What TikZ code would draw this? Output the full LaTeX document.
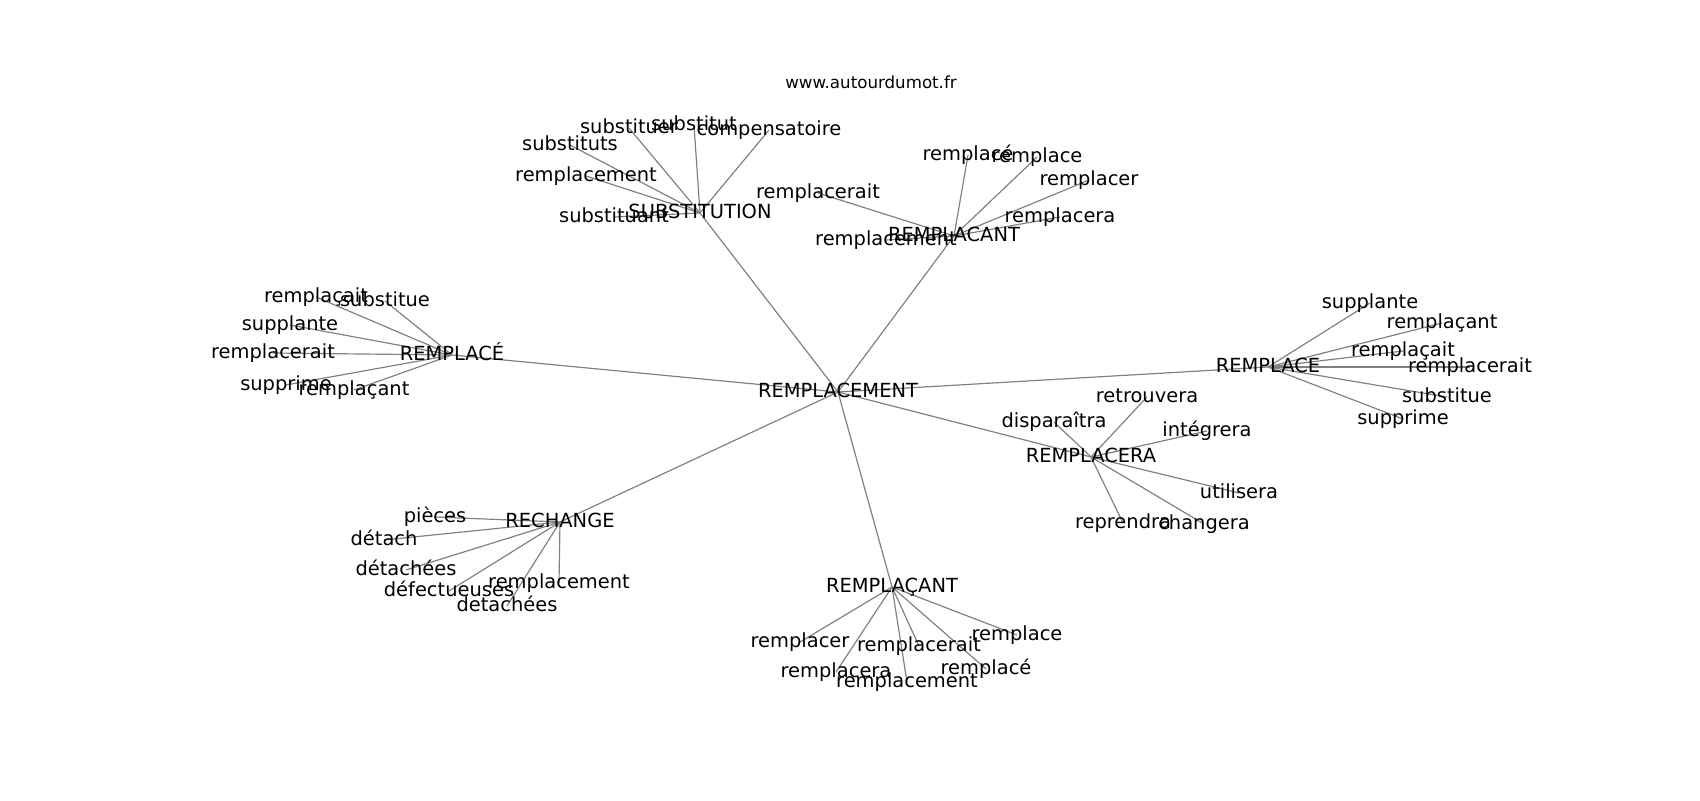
\documentclass[tikz,border=0pt]{standalone}
\usepackage{fontspec}
\setmainfont{DejaVu Sans}
\usetikzlibrary{backgrounds}
\begin{document}
\begin{tikzpicture}[x=0.72pt,y=-0.72pt,
  lbl/.style={inner sep=0pt,outer sep=0pt,anchor=center,text height=0.73em,text depth=0pt,font=\fontsize{14}{16}\selectfont,text=black},
  site/.style={inner sep=0pt,anchor=center,text height=0.73em,text depth=0pt,font=\fontsize{12}{14}\selectfont,text=black},
  edge/.style={draw=gray,line width=0.85pt}]
\useasboundingbox (0,0) rectangle (1700,800);
\node[site] (www) at (871,83) {www.autourdumot.fr};
% hub
\node[lbl] (C) at (838,392) {REMPLACEMENT};
% second level
\node[lbl] (SUB) at (700,213) {SUBSTITUTION};
\node[lbl] (RTOP) at (954,236) {REMPLACANT};
\node[lbl] (RE) at (452,355) {REMPLACÉ};
\node[lbl] (RC) at (1268,367) {REMPLACE};
\node[lbl] (RA) at (1091,457) {REMPLACERA};
\node[lbl] (RH) at (560,522) {RECHANGE};
\node[lbl] (RB) at (892,587) {REMPLAÇANT};
% SUBSTITUTION leaves
\node[lbl] (s1) at (629,128) {substituer};
\node[lbl] (s2) at (694,125) {substitut};
\node[lbl] (s3) at (769,130) {compensatoire};
\node[lbl] (s4) at (570,145) {substituts};
\node[lbl] (s5) at (586,176) {remplacement};
\node[lbl] (s6) at (614,217) {substituant};
% REMPLACANT (top) leaves
\node[lbl] (t1) at (968,155) {remplacé};
\node[lbl] (t2) at (1037,157) {remplace};
\node[lbl] (t3) at (1089,180) {remplacer};
\node[lbl] (t4) at (818,193) {remplacerait};
\node[lbl] (t5) at (1060,217) {remplacera};
\node[lbl] (t6) at (886,240) {remplacement};
% REMPLACÉ leaves
\node[lbl] (e1) at (316,297) {remplaçait};
\node[lbl] (e2) at (385,301) {substitue};
\node[lbl] (e3) at (290,325) {supplante};
\node[lbl] (e4) at (273,353) {remplacerait};
\node[lbl] (e5) at (286,385) {supprime};
\node[lbl] (e6) at (354,390) {remplaçant};
% REMPLACE leaves
\node[lbl] (c1) at (1370,303) {supplante};
\node[lbl] (c2) at (1442,323) {remplaçant};
\node[lbl] (c3) at (1403,351) {remplaçait};
\node[lbl] (c4) at (1470,367) {remplacerait};
\node[lbl] (c5) at (1447,397) {substitue};
\node[lbl] (c6) at (1403,419) {supprime};
% REMPLACERA leaves
\node[lbl] (a1) at (1147,397) {retrouvera};
\node[lbl] (a2) at (1054,422) {disparaîtra};
\node[lbl] (a3) at (1207,431) {intégrera};
\node[lbl] (a4) at (1239,493) {utilisera};
\node[lbl] (a5) at (1123,523) {reprendra};
\node[lbl] (a6) at (1204,524) {changera};
% RECHANGE leaves
\node[lbl] (h1) at (435,517) {pièces};
\node[lbl] (h2) at (384,540) {détach};
\node[lbl] (h3) at (406,570) {détachées};
\node[lbl] (h4) at (449,591) {défectueuses};
\node[lbl] (h5) at (559,583) {remplacement};
\node[lbl] (h6) at (507,606) {detachées};
% REMPLAÇANT (bottom) leaves
\node[lbl] (b1) at (800,642) {remplacer};
\node[lbl] (b2) at (919,646) {remplacerait};
\node[lbl] (b3) at (1017,635) {remplace};
\node[lbl] (b4) at (836,672) {remplacera};
\node[lbl] (b5) at (907,682) {remplacement};
\node[lbl] (b6) at (986,669) {remplacé};
\begin{pgfonlayer}{background}
\fill[white] (0,0) rectangle (1700,800);
\foreach \a/\b in {C/SUB,C/RTOP,C/RE,C/RC,C/RA,C/RH,C/RB,
  SUB/s1,SUB/s2,SUB/s3,SUB/s4,SUB/s5,SUB/s6,
  RTOP/t1,RTOP/t2,RTOP/t3,RTOP/t4,RTOP/t5,RTOP/t6,
  RE/e1,RE/e2,RE/e3,RE/e4,RE/e5,RE/e6,
  RC/c1,RC/c2,RC/c3,RC/c4,RC/c5,RC/c6,
  RA/a1,RA/a2,RA/a3,RA/a4,RA/a5,RA/a6,
  RH/h1,RH/h2,RH/h3,RH/h4,RH/h5,RH/h6,
  RB/b1,RB/b2,RB/b3,RB/b4,RB/b5,RB/b6}
  \draw[edge] (\a.center) -- (\b.center);
\end{pgfonlayer}
\end{tikzpicture}
\end{document}
